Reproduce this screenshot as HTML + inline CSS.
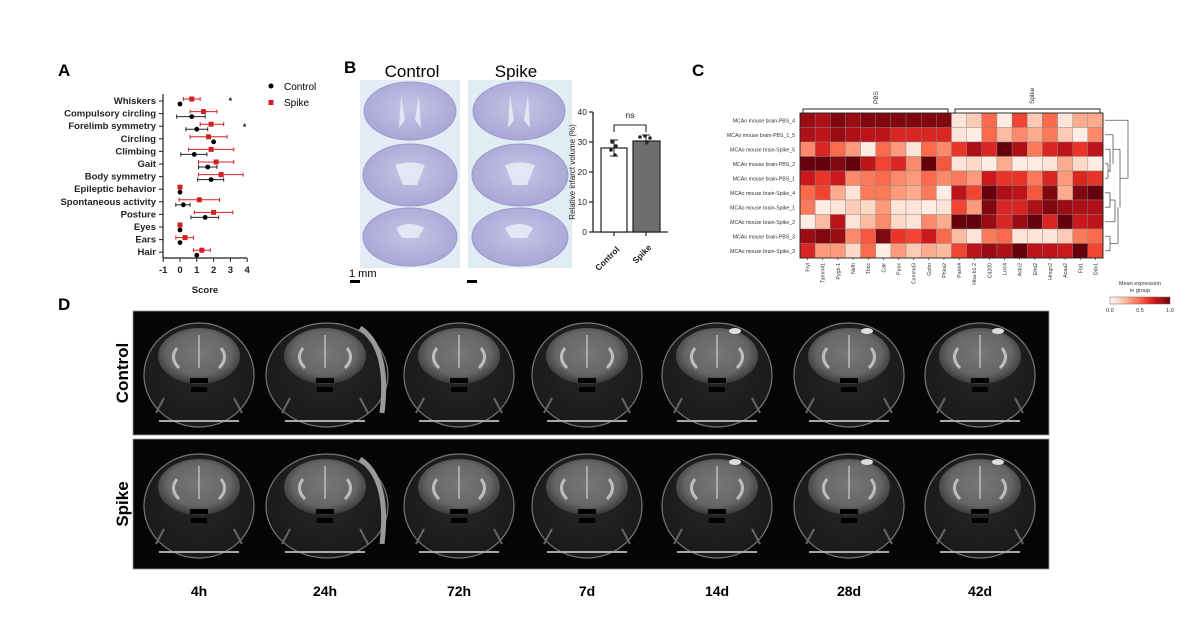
<!DOCTYPE html>
<html><head><meta charset="utf-8"><style>
html,body{margin:0;padding:0;background:#fff;width:1200px;height:634px;overflow:hidden}
svg{display:block;font-family:"Liberation Sans",Arial,sans-serif}
</style></head><body>
<svg id="s" width="1200" height="634" viewBox="0 0 1200 634" xmlns="http://www.w3.org/2000/svg">
<defs>
<radialGradient id="mri" cx="50%" cy="45%" r="55%"><stop offset="0" stop-color="#777"/><stop offset="0.7" stop-color="#666"/><stop offset="1" stop-color="#3a3a3a"/></radialGradient>
<radialGradient id="head" cx="50%" cy="45%" r="55%"><stop offset="0" stop-color="#262626"/><stop offset="1" stop-color="#1a1a1a"/></radialGradient>
<radialGradient id="nissl" cx="50%" cy="45%" r="55%"><stop offset="0" stop-color="#c4c6e6"/><stop offset="1" stop-color="#a9a6d6"/></radialGradient>
</defs>
<text x="58" y="76" font-size="17" font-weight="bold">A</text>
<text x="344" y="73" font-size="17" font-weight="bold">B</text>
<text x="692" y="76" font-size="17" font-weight="bold">C</text>
<text x="58" y="310" font-size="17" font-weight="bold">D</text>

<g id="pa" font-size="9.5" font-weight="bold" fill="#222"></g>
<circle cx="271" cy="86" r="2.5" fill="#000"/><text x="284" y="90" font-size="10">Control</text>
<rect x="268.5" y="100" width="5" height="5" fill="#d42020"/><text x="284" y="106" font-size="10">Spike</text>

<text x="412" y="77" font-size="17" text-anchor="middle">Control</text>
<text x="516" y="77" font-size="17" text-anchor="middle">Spike</text>
<rect x="360" y="80" width="100" height="188" fill="#e4ecf6"/>
<rect x="468" y="80" width="104" height="188" fill="#e0edf3"/>
<g fill="url(#nissl)" stroke="#9d98cc" stroke-width="1">
<ellipse cx="410" cy="111" rx="46" ry="29"/><ellipse cx="519" cy="111" rx="46" ry="29"/>
<ellipse cx="410" cy="175" rx="47" ry="31"/><ellipse cx="520" cy="175" rx="48" ry="31"/>
<ellipse cx="410" cy="237" rx="47" ry="29"/><ellipse cx="520" cy="237" rx="48" ry="29"/>
</g>
<g fill="#eef0f8" opacity="0.8">
<path d="M401 95 l4 25 l-6 8 z M419 95 l-4 25 l6 8 z"/><path d="M510 95 l4 25 l-6 8 z M528 95 l-4 25 l6 8 z"/>
<path d="M395 165 q15 -5 30 0 l-8 20 l-14 0 z"/><path d="M505 165 q15 -5 30 0 l-8 20 l-14 0 z"/>
<path d="M396 228 q14 -8 28 0 l-6 10 l-16 0 z"/><path d="M505 228 q14 -8 28 0 l-6 10 l-16 0 z"/>
</g>
<text x="349" y="277" font-size="11">1 mm</text>
<rect x="350" y="280" width="10" height="3" fill="#000"/><rect x="467" y="280" width="10" height="3" fill="#000"/>
<g font-size="8.5" fill="#222">
<line x1="593" y1="112" x2="593" y2="232" stroke="#222" stroke-width="1.3"/>
<line x1="593" y1="232" x2="668" y2="232" stroke="#222" stroke-width="1.3"/>
<g stroke="#222" stroke-width="1.2"><line x1="589" y1="112" x2="593" y2="112"/><line x1="589" y1="142" x2="593" y2="142"/><line x1="589" y1="172" x2="593" y2="172"/><line x1="589" y1="202" x2="593" y2="202"/><line x1="589" y1="232" x2="593" y2="232"/><line x1="614" y1="232" x2="614" y2="236"/><line x1="646" y1="232" x2="646" y2="236"/></g>
<text x="587" y="115" text-anchor="end">40</text><text x="587" y="145" text-anchor="end">30</text><text x="587" y="175" text-anchor="end">20</text><text x="587" y="205" text-anchor="end">10</text><text x="587" y="235" text-anchor="end">0</text>
<text transform="translate(575,172) rotate(-90)" text-anchor="middle" font-size="8">Relative infarct volume (%)</text>
<rect x="601" y="148" width="26" height="84" fill="#fff" stroke="#222" stroke-width="1.2"/>
<rect x="633" y="141" width="27" height="91" fill="#6e6e6e" stroke="#222" stroke-width="1.2"/>
<path d="M614 140 v16 M610 140 h8 M610 156 h8 M646 135 v10 M642 135 h8" stroke="#222" stroke-width="1"/>
<g fill="#222"><circle cx="612" cy="142" r="1.8"/><circle cx="616" cy="146" r="1.8"/><circle cx="611" cy="150" r="1.8"/><circle cx="615" cy="155" r="1.8"/><circle cx="640" cy="137" r="1.8"/><circle cx="645" cy="136" r="1.8"/><circle cx="650" cy="138" r="1.8"/><circle cx="647" cy="142" r="1.8"/></g>
<path d="M614 132 v-7 h32 v7" fill="none" stroke="#222" stroke-width="1.1"/>
<text x="630" y="118" text-anchor="middle">ns</text>
<text transform="translate(620,250) rotate(-45)" text-anchor="end" font-weight="bold">Control</text>
<text transform="translate(652,248) rotate(-45)" text-anchor="end" font-weight="bold">Spike</text>
</g>

<g id="pc"></g>

<rect x="133" y="311" width="916" height="124" fill="#050505" stroke="#999" stroke-width="0.8"/>
<rect x="133" y="439" width="916" height="130" fill="#050505" stroke="#999" stroke-width="0.8"/>
<g id="pd"></g>
<text transform="translate(128,373) rotate(-90)" font-size="17" font-weight="bold" text-anchor="middle">Control</text>
<text transform="translate(128,504) rotate(-90)" font-size="17" font-weight="bold" text-anchor="middle">Spike</text>
<g font-size="14" font-weight="bold" text-anchor="middle">
<text x="199" y="596">4h</text><text x="325" y="596">24h</text><text x="459" y="596">72h</text><text x="587" y="596">7d</text><text x="717" y="596">14d</text><text x="849" y="596">28d</text><text x="980" y="596">42d</text>
</g>
</svg>
<script>
var NS="http://www.w3.org/2000/svg";
function el(p,t,a,txt){var e=document.createElementNS(NS,t);for(var k in a)e.setAttribute(k,a[k]);if(txt!=null)e.textContent=txt;p.appendChild(e);return e;}
var pa=document.getElementById('pa');
var X=function(v){return 180+v*16.8;};
var rows=[["Whiskers",[0.7,0.2,1.2],[0,0,0]],["Compulsory circling",[1.4,0.6,2.2],[0.7,-0.2,1.5]],["Forelimb symmetry",[1.85,1.2,2.6],[1.0,0.35,1.65]],["Circling",[1.7,0.6,2.8],[2.0,2,2]],["Climbing",[1.85,0.5,3.2],[0.85,0.05,1.6]],["Gait",[2.15,1.1,3.2],[1.65,1.1,2.2]],["Body symmetry",[2.45,1.1,3.75],[1.85,1.05,2.6]],["Epileptic behavior",[0,0,0],[0,0,0]],["Spontaneous activity",[1.15,-0.05,2.35],[0.2,-0.25,0.6]],["Posture",[2.0,0.85,3.15],[1.5,0.65,2.3]],["Eyes",[0,0,0],[0,0,0]],["Ears",[0.3,-0.25,0.8],[0,0,0]],["Hair",[1.3,0.8,1.8],[1.0,1,1]]];
el(pa,'line',{x1:163,y1:94,x2:163,y2:258,stroke:'#222','stroke-width':1.2});
el(pa,'line',{x1:163,y1:258,x2:247,y2:258,stroke:'#222','stroke-width':1.2});
for(var v=-1;v<=4;v++){el(pa,'line',{x1:X(v),y1:258,x2:X(v),y2:262,stroke:'#222'});el(pa,'text',{x:X(v),y:273,'text-anchor':'middle'},v);}
el(pa,'text',{x:205,y:293,'text-anchor':'middle'},'Score');
rows.forEach(function(r,i){var y=101+i*12.6;
 el(pa,'text',{x:156,y:y+3,'text-anchor':'end'},r[0]);
 el(pa,'line',{x1:159,y1:y,x2:163,y2:y,stroke:'#222'});
 var s=r[1],c=r[2],ys=y-2,yc=y+3;
 el(pa,'line',{x1:X(s[1]),y1:ys,x2:X(s[2]),y2:ys,stroke:'#d42020','stroke-width':1});
 el(pa,'line',{x1:X(s[1]),y1:ys-2,x2:X(s[1]),y2:ys+2,stroke:'#d42020'});el(pa,'line',{x1:X(s[2]),y1:ys-2,x2:X(s[2]),y2:ys+2,stroke:'#d42020'});
 el(pa,'line',{x1:X(c[1]),y1:yc,x2:X(c[2]),y2:yc,stroke:'#222','stroke-width':1});
 if(c[1]!=c[2]){el(pa,'line',{x1:X(c[1]),y1:yc-2,x2:X(c[1]),y2:yc+2,stroke:'#222'});el(pa,'line',{x1:X(c[2]),y1:yc-2,x2:X(c[2]),y2:yc+2,stroke:'#222'});}
 el(pa,'rect',{x:X(s[0])-2.5,y:ys-2.5,width:5,height:5,fill:'#d42020'});
 el(pa,'circle',{cx:X(c[0]),cy:yc,r:2.4,fill:'#000'});
});
el(pa,'text',{x:X(3),y:104,'text-anchor':'middle','font-size':9},'*');
el(pa,'text',{x:X(3.85),y:130,'text-anchor':'middle','font-size':9},'*');
var pc=document.getElementById('pc');
var H=[[.9,.85,.95,.9,.95,.95,.95,.95,.95,.95,.1,.2,.5,.05,.6,.2,.5,.1,.3,.3],
[.85,.8,.9,.85,.8,.8,.7,.7,.7,.7,.1,.05,.5,.25,.4,.3,.45,.2,.05,.4],
[.4,.7,.5,.35,.05,.5,.35,.1,.5,.4,.65,.85,.7,1,.85,.45,.7,.8,.65,.8],
[1,1,.95,1,.8,.6,.7,.4,1,.55,.1,.15,.05,.3,.05,.05,.1,.3,.15,.05],
[.75,.65,.75,.4,.45,.5,.4,.35,.5,.4,.45,.35,.75,.65,.65,.45,.7,.35,.7,.65],
[.5,.6,.3,.1,.45,.45,.35,.3,.45,.05,.8,.6,1,.85,.8,.55,.95,.3,.95,1],
[.45,.05,.1,.2,.15,.35,.1,.1,.05,.1,.6,.35,.95,.7,.7,.85,.95,.9,.85,.85],
[.05,.25,.8,.1,.25,.4,.15,.1,.4,.3,1,1,.9,.7,.9,1,.7,1,.75,.8],
[.9,.95,.9,.4,.55,.95,.65,.6,.75,.5,.25,.1,.45,.5,.1,.1,.1,.2,.45,.5],
[.7,.35,.35,.15,.5,.05,.35,.2,.3,.25,.6,.8,.9,.85,1,.8,.8,.75,1,.6]];
var stops=[[0,[255,245,240]],[.125,[254,224,210]],[.25,[252,187,161]],[.375,[252,146,114]],[.5,[251,106,74]],[.625,[239,59,44]],[.75,[203,24,29]],[.875,[165,15,21]],[1,[103,0,13]]];
function cm(v){for(var i=1;i<stops.length;i++){if(v<=stops[i][0]){var a=stops[i-1],b=stops[i],t=(v-a[0])/(b[0]-a[0]);return 'rgb('+[0,1,2].map(function(k){return Math.round(a[1][k]+t*(b[1][k]-a[1][k]));}).join(',')+')';}}return 'rgb(103,0,13)';}
var x0=800,y0=113,cw=15.15,ch=14.5;
var rn=["MCAo mouse brain-PBS_4","MCAo mouse brain-PBS_1_5","MCAo mouse brain-Spike_5","MCAo mouse brain-PBS_2","MCAo mouse brain-PBS_1","MCAo mouse brain-Spike_4","MCAo mouse brain-Spike_1","MCAo mouse brain-Spike_2","MCAo mouse brain-PBS_3","MCAo mouse brain-Spike_3"];
var cn=["Fryl","Tamm41","Pygb-1","Nefh","Tbcc","Calr","Ppox","Commd3","Gphn","Phka2","Pank4","Hba-b1-2","Cd200","Lrrc4","Astn2","Ehd2","Hmgn2","Acaa2","Fbl1","Ddx1"];
H.forEach(function(r,i){r.forEach(function(v,j){el(pc,'rect',{x:x0+j*cw,y:y0+i*ch,width:cw,height:ch,fill:cm(v),stroke:'#888','stroke-width':0.4});});
 el(pc,'text',{x:x0-5,y:y0+i*ch+ch/2+2,'text-anchor':'end','font-size':5.2,fill:'#333'},rn[i]);});
el(pc,'rect',{x:x0,y:y0,width:cw*20,height:ch*10,fill:'none',stroke:'#222','stroke-width':0.9});
cn.forEach(function(n,j){var x=x0+j*cw+cw/2;el(pc,'line',{x1:x,y1:y0+ch*10,x2:x,y2:y0+ch*10+2,stroke:'#222','stroke-width':0.6});
 el(pc,'text',{transform:'translate('+(x+2)+','+(y0+ch*10+5)+') rotate(-90)','text-anchor':'end','font-size':5.2,fill:'#333'},n);});
el(pc,'path',{d:'M'+(x0+3)+' 113 v-4 h145 v4 M'+(x0+155)+' 113 v-4 h145 v4',fill:'none',stroke:'#222','stroke-width':0.9});
el(pc,'text',{transform:'translate(878,104) rotate(-90)','font-size':6.5,fill:'#333'},'PBS');
el(pc,'text',{transform:'translate(1034,104) rotate(-90)','font-size':6.5,fill:'#333'},'Spike');
var yc=function(i){return y0+i*ch+ch/2;};
el(pc,'path',{d:'M1105 '+yc(0)+' H1117 M1105 '+yc(1)+' H1113 M1105 '+yc(2)+' H1110 M1105 '+yc(3)+' H1108 M1105 '+yc(4)+' H1108 M1105 '+yc(5)+' H1110 M1105 '+yc(6)+' H1110 M1105 '+yc(7)+' H1115 M1105 '+yc(8)+' H1110 M1105 '+yc(9)+' H1110 M1108 '+yc(3)+' V'+yc(4)+' M1108 '+((yc(3)+yc(4))/2)+' H1111 M1110 '+yc(2)+' V'+((yc(3)+yc(4))/2)+' M1113 '+yc(1)+' V'+yc(3)+' M1110 '+yc(5)+' V'+yc(6)+' M1110 '+((yc(5)+yc(6))/2)+' H1115 M1115 '+((yc(5)+yc(6))/2)+' V'+yc(7)+' M1110 '+yc(8)+' V'+yc(9)+' M1110 '+((yc(8)+yc(9))/2)+' H1118 M1118 '+((yc(8)+yc(9))/2)+' V'+yc(6)+' M1113 '+yc(2)+' H1120 M1120 '+yc(2)+' V'+yc(6)+' M1120 '+yc(4)+' H1128 M1117 '+yc(0)+' H1128 M1128 '+yc(0)+' V'+yc(4),fill:'none',stroke:'#555','stroke-width':0.8});
var gd=el(document.querySelector('defs'),'linearGradient',{id:'cb'});
for(var k=0;k<=8;k++)el(gd,'stop',{offset:k/8,'stop-color':cm(k/8)});
el(pc,'text',{x:1140,y:285,'text-anchor':'middle','font-size':5.5,fill:'#333'},'Mean expression');
el(pc,'text',{x:1140,y:292,'text-anchor':'middle','font-size':5.5,fill:'#333'},'in group');
el(pc,'rect',{x:1110,y:297,width:60,height:7,fill:'url(#cb)',stroke:'#666','stroke-width':0.5});
el(pc,'text',{x:1110,y:312,'text-anchor':'middle','font-size':5.5,fill:'#333'},'0.0');
el(pc,'text',{x:1140,y:312,'text-anchor':'middle','font-size':5.5,fill:'#333'},'0.5');
el(pc,'text',{x:1170,y:312,'text-anchor':'middle','font-size':5.5,fill:'#333'},'1.0');
var pd=document.getElementById('pd');
var cx=[199,325,459,587,717,849,980];
[373,504].forEach(function(cy,r){cx.forEach(function(x,i){
 var big=(i==1?1:0);
 el(pd,'ellipse',{cx:x+(big?2:0),cy:cy+2,rx:55+big*6,ry:52,fill:'url(#head)',stroke:'#777','stroke-width':1.2});
 el(pd,'ellipse',{cx:x,cy:cy-17,rx:41,ry:28,fill:'url(#mri)'});
 el(pd,'path',{d:'M'+(x-22)+' '+(cy-25)+' q-8 10 2 20 M'+(x+22)+' '+(cy-25)+' q8 10 -2 20',stroke:'#bdbdbd','stroke-width':3,fill:'none'});
 el(pd,'line',{x1:x,y1:cy-38,x2:x,y2:cy-5,stroke:'#aaa','stroke-width':2});
 el(pd,'rect',{x:x-9,y:cy+5,width:18,height:5,fill:'#000'});
 el(pd,'rect',{x:x-8,y:cy+14,width:16,height:5,fill:'#000'});
 el(pd,'path',{d:'M'+(x-40)+' '+(cy+48)+' h80',stroke:'#aaa','stroke-width':2});
 el(pd,'path',{d:'M'+(x-35)+' '+(cy+25)+' l-8 15 M'+(x+35)+' '+(cy+25)+' l8 15',stroke:'#666','stroke-width':2});
 if(i==1){el(pd,'path',{d:'M'+(x+35)+' '+(cy-45)+' q30 20 22 85',stroke:'#999','stroke-width':5,fill:'none'});}
 if(i>=4){el(pd,'ellipse',{cx:x+18,cy:cy-42,rx:6,ry:3,fill:'#ddd'});}
});});
</script>
</body></html>
